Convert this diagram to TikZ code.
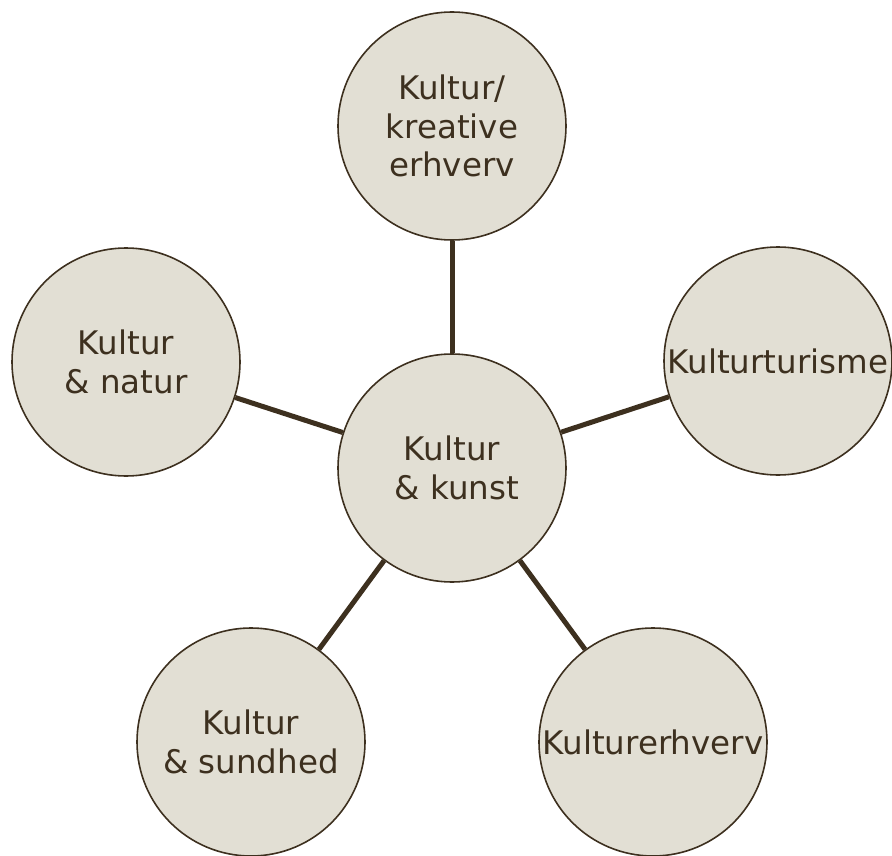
\documentclass[tikz,border=0pt]{standalone}
\usepackage{fontspec}
\setmainfont{DejaVu Sans}
\definecolor{ink}{HTML}{3D301F}
\definecolor{disc}{HTML}{E2DFD4}
\begin{document}
\begin{tikzpicture}[x=1pt,y=-1pt,
  bubble/.style={circle,draw=ink,line width=1.6pt,fill=disc,minimum size=228pt,inner sep=0pt,
    text=ink,font=\fontsize{32.5}{38.5}\selectfont,align=center},
  link/.style={draw=ink,line width=5pt}]
\useasboundingbox (0,0) rectangle (892,856);
\node[bubble] (c) at (452,468) {Kultur\\\hspace*{10pt}\& kunst};
\node[bubble] (t) at (452,126) {Kultur/\\kreative\\erhverv};
\node[bubble] (r) at (778,361) {Kulturturisme};
\node[bubble] (l) at (126,362) {Kultur\\\& natur};
\node[bubble] (bl) at (251,742) {Kultur\\\& sundhed};
\node[bubble] (br) at (653,742) {Kulturerhverv};
\foreach \n in {t,r,l,bl,br} \draw[link] (c) -- (\n);
\end{tikzpicture}
\end{document}
